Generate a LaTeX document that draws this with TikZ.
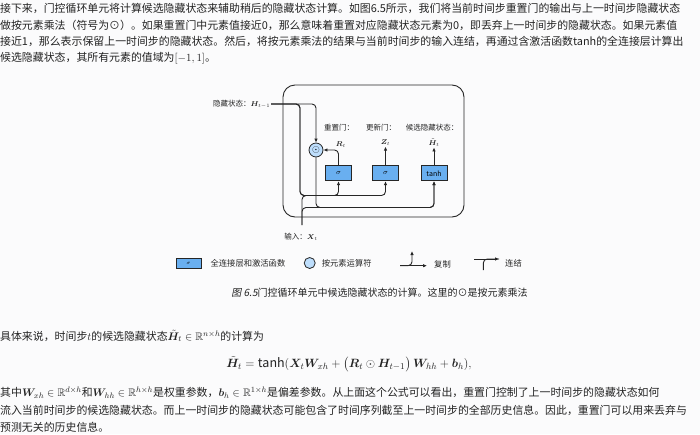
\documentclass[tikz,border=0pt]{standalone}
\usepackage{amsmath,amssymb,bm}
\usepackage{fontspec}
\setmainfont{Noto Sans CJK SC}
\newfontfamily\capit[FakeSlant=0.2]{Noto Sans CJK SC}
\usetikzlibrary{arrows.meta,positioning}

\definecolor{bodytext}{RGB}{35,35,35}
\definecolor{fcblue}{RGB}{105,175,240}
\definecolor{opblue}{RGB}{190,222,252}
\definecolor{pagebg}{RGB}{251,251,252}

\tikzset{
  para/.style={anchor=west, inner sep=0pt, text=bodytext, font=\fontsize{10.9}{13}\selectfont},
  fcbox/.style={draw=black!85, fill=fcblue, line width=0.8pt, minimum width=26pt, minimum height=15pt, inner sep=0pt, font=\fontsize{7}{8}\selectfont},
  opcirc/.style={circle, draw=black!85, fill=opblue, line width=0.8pt, minimum size=14pt, inner sep=0pt},
  lab/.style={inner sep=0.5pt, text=black!85, font=\fontsize{7.5}{9}\selectfont},
  leg/.style={lab, anchor=west, inner sep=0pt, font=\fontsize{8.3}{10}\selectfont},
  wire/.style={draw=black!85, line width=0.9pt, rounded corners=4pt},
  flow/.style={wire, -{Latex[length=4pt,width=3.5pt]}},
}

\begin{document}
\begin{tikzpicture}[x=1pt,y=-1pt]
\fill[pagebg] (0,0) rectangle (700,434);
\useasboundingbox (0,0) rectangle (700,434);

% text above the figure
\node[para] (p1) at (0,8.5) {接下来，门控循环单元将计算候选隐藏状态来辅助稍后的隐藏状态计算。如图6.5所示，我们将当前时间步重置门的输出与上一时间步隐藏状态};
\node[para] (p2) at (0,25) {做按元素乘法（符号为⊙）。如果重置门中元素值接近0，那么意味着重置对应隐藏状态元素为0，即丢弃上一时间步的隐藏状态。如果元素值};
\node[para] (p3) at (0,41.5) {接近1，那么表示保留上一时间步的隐藏状态。然后，将按元素乘法的结果与当前时间步的输入连结，再通过含激活函数tanh的全连接层计算出};
\node[para] (p4) at (0,58) {候选隐藏状态，其所有元素的值域为$[-1,1]$。};

% the cell
\node[draw=black!85, line width=0.9pt, rounded corners=12pt, minimum width=181pt, minimum height=132pt] (cell) at (373.5,151) {};

\node[fcbox] (rgate) at (338.5,173.3) {$\sigma$};
\node[fcbox] (zgate) at (385.5,173.3) {$\sigma$};
\node[fcbox] (cand) at (434,173.3) {$\tanh$};
\node[opcirc] (mul) at (316,150) {$\odot$};

\node[lab, anchor=east] (hlab) at (271,104) {隐藏状态：$\bm{H}_{t-1}$};
\node[lab] (xlab) at (301,237) {输入：$\bm{X}_t$};
\node[lab] (rtitle) at (339,127.5) {重置门：};
\node[lab] (ztitle) at (381,127.5) {更新门：};
\node[lab] (htitle) at (432,127.5) {候选隐藏状态：};
\node[lab] (rout) at (341,145) {$\bm{R}_t$};
\node[lab] (zout) at (385.5,143) {$\bm{Z}_t$};
\node[lab] (hout) at (434,143) {$\tilde{\bm{H}}_t$};

\coordinate (hjoin) at (300,195.5);
\coordinate (xfoot) at (302,225);
\coordinate (tjoin) at (302,207.5);

% wires
\draw[flow] (hlab.east) -| (mul.north);
\draw[flow] (hlab.east) -| (hjoin) -| (rgate.south);
\draw[flow] (hlab.east) -| (hjoin) -| (zgate.south);
\draw[wire] (xfoot) |- (rgate.south |- hjoin);
\draw[flow] (xfoot) |- (cand.south |- tjoin) -- (cand.south);
\draw[flow] (mul.south) |- (cand.south |- tjoin) -- (cand.south);
\draw[flow] (rgate.north) |- (mul.east);
\draw[flow] (zgate.north) -- (zout.south);
\draw[flow] (cand.north) -- (hout.south);

% legend
\node[fcbox, minimum width=25pt, minimum height=10pt, font=\fontsize{5}{6}\selectfont] (legfc) at (188.5,263.3) {$\sigma$};
\node[leg, right=9pt of legfc] (legfctext) {全连接层和激活函数};
\node[opcirc, minimum size=11pt] (legop) at (309.7,263) {};
\node[leg, right=6pt of legop] (legoptext) {按元素运算符};
\coordinate (cpa) at (400,265.7);
\coordinate (cpb) at (427,265.7);
\coordinate (cpc) at (412,251);
\draw[flow] (cpa) -- (cpb);
\draw[flow] (cpa) -| (cpc);
\node[leg] (copytext) at (434,264) {复制};
\coordinate (cna) at (483.3,270);
\coordinate (cnb) at (474,259);
\coordinate (cnc) at (499,259);
\draw[flow] (cnb) -- (cnc);
\draw[wire] (cna) |- (cnc);
\node[leg] (connecttext) at (505,263.5) {连结};

\node[inner sep=0pt, text=bodytext, font=\fontsize{10}{12}\selectfont] (caption) at (379.5,293) {{\capit 图 6.5}门控循环单元中候选隐藏状态的计算。这里的⊙是按元素乘法};

% text below the figure
\node[para] (q1) at (0,336) {具体来说，时间步$t$的候选隐藏状态$\tilde{\bm{H}}_t \in \mathbb{R}^{n\times h}$的计算为};
\node[para, anchor=center, font=\fontsize{12.5}{14}\selectfont] (eq) at (349,364) {$\tilde{\bm{H}}_t = \tanh(\bm{X}_t \bm{W}_{xh} + \bigl(\bm{R}_t \odot \bm{H}_{t-1}\bigr)\, \bm{W}_{hh} + \bm{b}_h),$};
\node[para] (q2) at (0,393) {其中$\bm{W}_{xh} \in \mathbb{R}^{d\times h}$和$\bm{W}_{hh} \in \mathbb{R}^{h\times h}$是权重参数，$\bm{b}_h \in \mathbb{R}^{1\times h}$是偏差参数。从上面这个公式可以看出，重置门控制了上一时间步的隐藏状态如何};
\node[para] (q3) at (0,410) {流入当前时间步的候选隐藏状态。而上一时间步的隐藏状态可能包含了时间序列截至上一时间步的全部历史信息。因此，重置门可以用来丢弃与};
\node[para] (q4) at (0,427) {预测无关的历史信息。};
\end{tikzpicture}
\end{document}
